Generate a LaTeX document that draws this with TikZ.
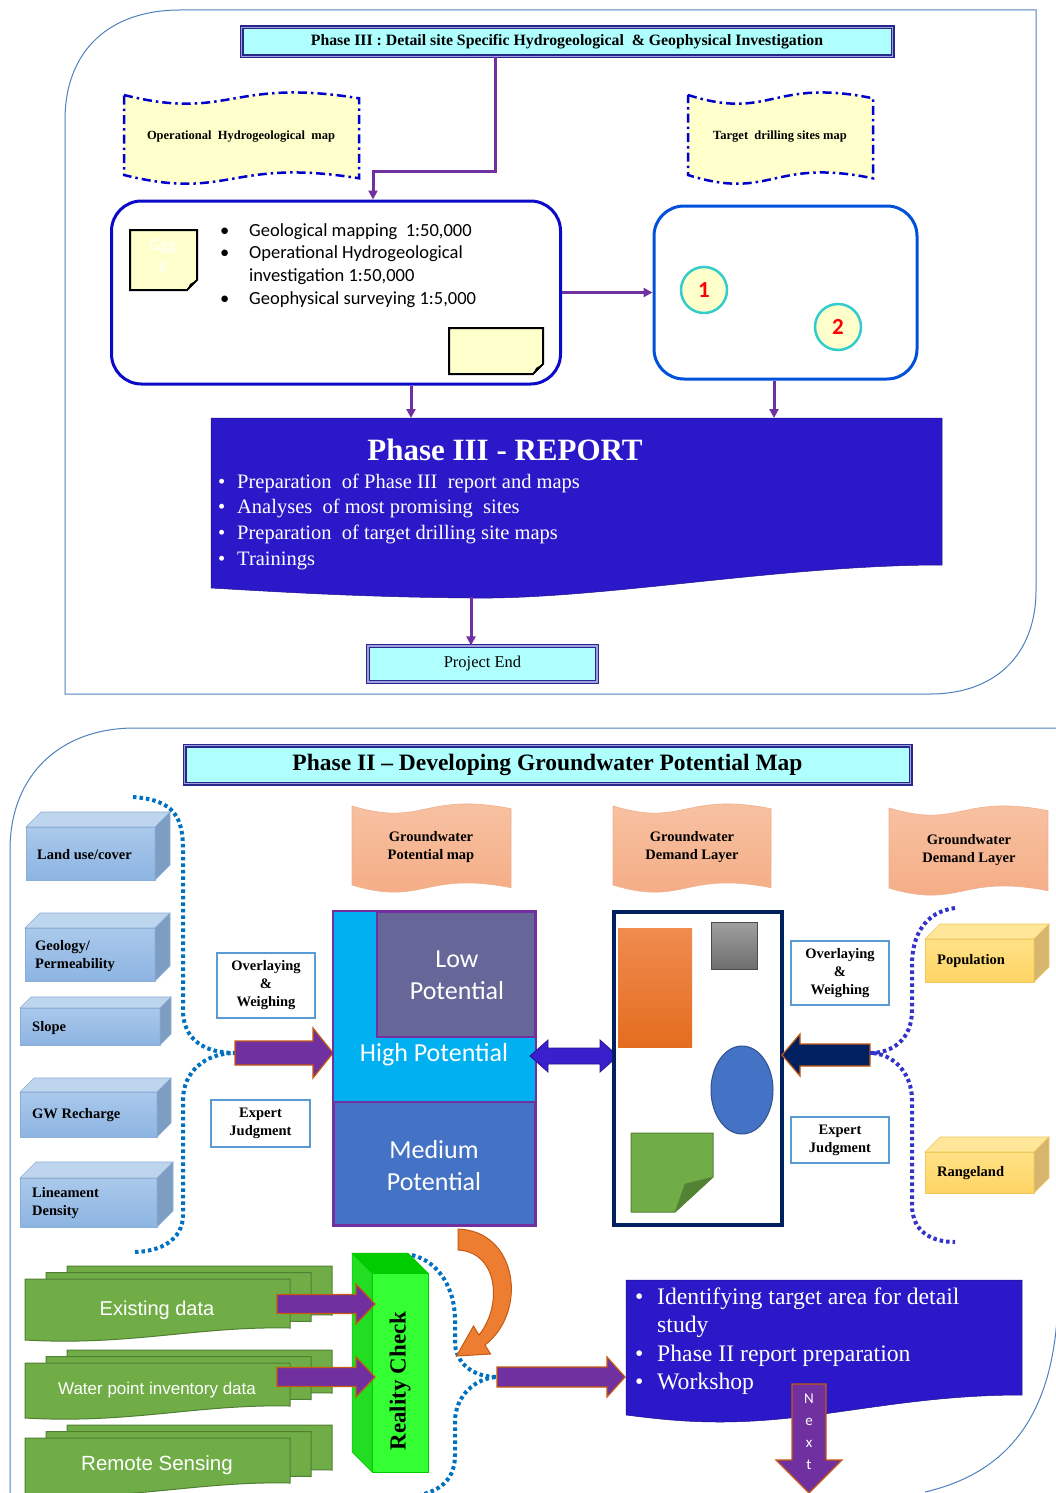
\documentclass[tikz,border=0pt]{standalone}
\usepackage{fontspec}
\setmainfont{Liberation Serif}
\setsansfont{Carlito}
\newfontfamily\arialfont{Liberation Sans}
\usetikzlibrary{arrows.meta,positioning,calc}

\definecolor{framecol}{RGB}{79,129,189}
\definecolor{titlecyan}{RGB}{175,255,255}
\definecolor{titleedge}{RGB}{40,40,140}
\definecolor{titlemid}{RGB}{160,160,225}
\definecolor{tapeyellow}{RGB}{255,255,204}
\definecolor{tapeblue}{RGB}{0,0,204}
\definecolor{fieldblue}{RGB}{10,10,200}
\definecolor{siteblue}{RGB}{0,80,220}
\definecolor{linkpurple}{RGB}{112,48,160}
\definecolor{turq}{RGB}{51,204,204}
\definecolor{repblue}{RGB}{43,24,201}
\definecolor{bluefront}{RGB}{170,201,235}
\definecolor{bluefrontb}{RGB}{141,180,226}
\definecolor{bluetop}{RGB}{190,213,238}
\definecolor{blueside}{RGB}{125,157,194}
\definecolor{blueedge}{RGB}{140,175,215}
\definecolor{yelfront}{RGB}{255,226,135}
\definecolor{yelfrontb}{RGB}{255,212,100}
\definecolor{yeltop}{RGB}{255,230,153}
\definecolor{yelside}{RGB}{214,182,110}
\definecolor{yeledge}{RGB}{240,200,90}
\definecolor{salmontop}{RGB}{248,196,165}
\definecolor{salmonbot}{RGB}{244,170,130}
\definecolor{salmonedge}{RGB}{240,175,140}
\definecolor{boxline}{RGB}{91,155,213}
\definecolor{arrowpurple}{RGB}{112,48,160}
\definecolor{arrowedge}{RGB}{197,90,17}
\definecolor{highcyan}{RGB}{0,176,240}
\definecolor{lowgray}{RGB}{102,102,153}
\definecolor{medblue}{RGB}{68,114,196}
\definecolor{navy}{RGB}{0,32,96}
\definecolor{orangea}{RGB}{240,140,80}
\definecolor{orangeb}{RGB}{228,108,30}
\definecolor{graya}{RGB}{160,160,160}
\definecolor{grayb}{RGB}{110,110,110}
\definecolor{ellipseedge}{RGB}{47,82,143}
\definecolor{notegreen}{RGB}{112,173,71}
\definecolor{foldgreen}{RGB}{84,130,53}
\definecolor{dotblue}{RGB}{0,112,192}
\definecolor{dotviolet}{RGB}{51,51,204}
\definecolor{stackedge}{RGB}{80,126,50}
\definecolor{realfront}{RGB}{51,255,51}
\definecolor{realtop}{RGB}{0,204,0}
\definecolor{realside}{RGB}{34,221,34}
\definecolor{dblblue}{RGB}{58,31,204}
\definecolor{curvorange}{RGB}{237,125,49}

\tikzset{
  framebound/.style={draw=framecol, line width=1},
  titlebox/.style={draw=titleedge, line width=1.2, double=titlemid, double distance=1.6, fill=titlecyan, inner sep=0},
  link/.style={draw=linkpurple, line width=3, -{Triangle[length=9pt,width=9pt]}},
  yellowtape/.style={fill=tapeyellow, draw=tapeblue, line width=2.5, dash pattern=on 9pt off 4pt on 2.5pt off 4pt},
  salmontape/.style={top color=salmontop, bottom color=salmonbot, draw=salmonedge, line width=0.6},
  fieldbox/.style={line width=3, rounded corners=30, fill=white},
  sitemark/.style={circle, fill=tapeyellow, draw=turq, line width=2.5, minimum size=46, inner sep=0, text=red, font=\sffamily\bfseries\fontsize{23}{26}\selectfont},
  layertext/.style={anchor=west, align=left, inner sep=0, font=\bfseries\fontsize{14.5}{17.5}\selectfont},
  methodbox/.style={draw=boxline, line width=1.5, fill=white, align=center, inner sep=0, font=\bfseries\fontsize{14.5}{18}\selectfont},
  maptitle/.style={align=center, font=\bfseries\fontsize{14.5}{17.5}\selectfont},
  maptext/.style={text=white, align=center, font=\sffamily\fontsize{26}{32}\selectfont},
  fatpurple/.style={fill=arrowpurple, draw=arrowedge, line width=1.2},
  fatnavy/.style={fill=navy, draw=arrowedge, line width=1.2},
  dotline/.style={line width=4, dash pattern=on 3.5pt off 3pt},
  stack/.style={fill=notegreen, draw=stackedge, line width=1},
  stacktext/.style={text=white, font=\arialfont\fontsize{20}{24}\selectfont},
}

% wavy banner: x0 y0 x1 y1 amplitude
\newcommand{\wavetape}[6][]{%
  \path[#1] ({#2},{#3}) .. controls ({(#2)+0.45*((#4)-(#2))},{(#3)+2.4*(#6)}) and ({(#2)+0.45*((#4)-(#2))},{(#3)-1.6*(#6)}) .. ({#4},{(#3)+0.3*(#6)})
    -- ({#4},{(#5)+0.3*(#6)}) .. controls ({(#2)+0.45*((#4)-(#2))},{(#5)-1.6*(#6)}) and ({(#2)+0.45*((#4)-(#2))},{(#5)+2.4*(#6)}) .. ({#2},{#5}) -- cycle;}
% page with wavy bottom: x0 y0 x1 y1
\newcommand{\docpage}[5][]{%
  \path[#1] ({#2},{#3}) -- ({#4},{#3}) -- ({#4},{(#5)-12}) .. controls ({(#2)+0.65*((#4)-(#2))},{(#5)-14}) and ({(#2)+0.4*((#4)-(#2))},{(#5)+6}) .. ({#2},{#5}) -- cycle;}
% box with top and right faces: x0 y0 x1 y1 depth colourprefix
\newcommand{\boxthree}[6]{%
  \path[draw=#6edge, line width=0.6, top color=#6front, bottom color=#6frontb] (#1,#2) rectangle (#3,#4);
  \filldraw[fill=#6top, draw=#6edge, line width=0.6] (#1,#2) -- ({(#1)+(#5)},{(#2)-(#5)}) -- ({(#3)+(#5)},{(#2)-(#5)}) -- (#3,#2) -- cycle;
  \filldraw[fill=#6side, draw=#6edge, line width=0.6] (#3,#2) -- ({(#3)+(#5)},{(#2)-(#5)}) -- ({(#3)+(#5)},{(#4)-(#5)}) -- (#3,#4) -- cycle;}
% note with turned corner: x0 y0 x1 y1
\newcommand{\stickynote}[4]{%
  \filldraw[fill=tapeyellow, draw=black, line width=2] (#1,#2) -- (#3,#2) -- (#3,{(#4)-10}) -- ({(#3)-10},#4) -- (#1,#4) -- cycle;
  \fill[black] (#3,{(#4)-10}) -- ({(#3)-10},#4) -- ({(#3)-7},{(#4)-6}) -- cycle;}
% block arrow: tail x, head base x, tip x, y, body half, head half
\newcommand{\fatarrow}[7][]{%
  \filldraw[#1] (#2,{(#5)-(#6)}) -- (#3,{(#5)-(#6)}) -- (#3,{(#5)-(#7)}) -- (#4,#5) -- (#3,{(#5)+(#7)}) -- (#3,{(#5)+(#6)}) -- (#2,{(#5)+(#6)}) -- cycle;}

\begin{document}
\begin{tikzpicture}[x=1pt,y=-1pt]
\useasboundingbox (0,0) rectangle (1056,1493);
\fill[white] (0,0) rectangle (1056,1493);

% ===== Phase III =====
\draw[framebound] (65,694) -- (65,120) .. controls (65,50) and (110,10) .. (180,10) -- (1036,10) -- (1036,590) .. controls (1036,655) and (995,694) .. (930,694) -- cycle;

\node[titlebox, minimum width=651, minimum height=29, font=\bfseries\fontsize{15.8}{18}\selectfont] (p3title) at (567,42) {Phase III : Detail site Specific Hydrogeological \ \& Geophysical Investigation};

% maps produced
\wavetape[yellowtape]{124}{95}{359}{175}{11}
\node[font=\bfseries\fontsize{12.5}{15}\selectfont] (opmap) at (241,137) {Operational \ Hydrogeological \ map};
\wavetape[yellowtape]{688}{95}{873}{175}{11}
\node[font=\bfseries\fontsize{12.5}{15}\selectfont] (tgmap) at (780,137) {Target \ drilling sites map};

% field work
\node[fieldbox, draw=fieldblue, minimum width=449, minimum height=183] (fieldbox) at (336,292.5) {};
\stickynote{130}{230}{197}{290}
\node[text=white, align=center, font=\sffamily\fontsize{17}{19}\selectfont] (ggg) at (163,256) {Ggg\\g};
\stickynote{449}{328}{543}{374}
\node[anchor=base west, inner sep=0, font=\sffamily\fontsize{18.5}{22.7}\selectfont] (fielditems) at (220,236) {\begin{tabular}[t]{@{}p{29pt}@{}l@{}}
\textbullet & Geological mapping \ 1:50,000\\
\textbullet & Operational Hydrogeological\\
 & investigation 1:50,000\\
\textbullet & Geophysical surveying 1:5,000
\end{tabular}};

% drilling sites
\node[fieldbox, draw=siteblue, minimum width=263, minimum height=173] (sitebox) at (785.5,292.5) {};
\node[sitemark] (site1) at (704,290) {1};
\node[sitemark] (site2) at (838,327) {2};

\draw[link] ([xshift=-72pt]p3title.south) -- ++(0,114) -| ([xshift=37pt]fieldbox.north);
\draw[link] (fieldbox.east) -- (sitebox.west);

% report
\coordinate (reptop) at (576,418);
\path[fill=repblue, draw=repblue!70!black, line width=0.5] (211,418) -- (942,418) -- (942,565) .. controls (780,565) and (600,600) .. (470,598) .. controls (360,597) and (280,592) .. (211,588) -- cycle;
\draw[link] ([xshift=75pt]fieldbox.south) -- ([xshift=75pt]fieldbox.south |- reptop);
\draw[link] ([xshift=-11.5pt]sitebox.south) -- ([xshift=-11.5pt]sitebox.south |- reptop);
\node[text=white, font=\bfseries\fontsize{31}{36}\selectfont] (reptitle) at (505,450) {Phase III - REPORT};
\node[anchor=base west, inner sep=0, text=white, font=\fontsize{20.5}{25.7}\selectfont] (repitems) at (218,488) {\begin{tabular}[t]{@{}p{19pt}@{}l@{}}
\textbullet & Preparation \ of Phase III \ report and maps\\
\textbullet & Analyses \ of most promising \ sites\\
\textbullet & Preparation \ of target drilling site maps\\
\textbullet & Trainings
\end{tabular}};

\coordinate (repbot) at (471,597);
\node[titlebox, minimum width=229, minimum height=36, font=\fontsize{16.5}{19}\selectfont] (pend) at (482.5,664) {Project End};
\draw[link] (repbot) -- (repbot |- pend.north);

% ===== Phase II =====
\draw[framebound] (10,1500) -- (10,850) .. controls (10,775) and (60,728) .. (135,728) -- (1058,728) -- (1058,1300) .. controls (1055,1400) and (1020,1470) .. (925,1492);

\node[titlebox, minimum width=726, minimum height=38, font=\bfseries\fontsize{23.5}{27}\selectfont] (p2title) at (547.5,764.5) {Phase II \textendash{} Developing Groundwater Potential Map};

% input layers
\boxthree{26}{827}{155}{880}{15}{blue}
\node[layertext] (landuse) at (37,855) {Land use/cover};
\boxthree{25}{928}{155}{981}{15}{blue}
\node[layertext] (geology) at (35,956) {Geology/\\Permeability};
\boxthree{20}{1008}{160}{1045}{11}{blue}
\node[layertext] (slope) at (32,1028) {Slope};
\boxthree{20}{1092}{157}{1137}{14}{blue}
\node[layertext] (recharge) at (32,1115) {GW Recharge};
\boxthree{20}{1178}{157}{1227}{16}{blue}
\node[layertext] (lineament) at (32,1203) {Lineament\\Density};

\draw[dotline, draw=dotblue] (133,797) .. controls (175,800) and (183,818) .. (183,850) -- (183,1010) .. controls (183,1040) and (205,1053) .. (235,1053) .. controls (205,1053) and (183,1072) .. (183,1100) -- (183,1215) .. controls (183,1240) and (160,1252) .. (133,1252);

\node[methodbox, minimum width=98, minimum height=65] (owleft) at (266,985.5) {Overlaying\\\&\\Weighing};
\node[methodbox, minimum width=99, minimum height=47] (ejleft) at (260.5,1123.5) {Expert\\Judgment};
\fatarrow[fatpurple]{235}{313}{333}{1053}{12}{25}

% potential map
\node[draw=linkpurple, line width=2.5, fill=highcyan, minimum width=203, minimum height=315, inner sep=0] (potmap) at (434.5,1068.5) {};
\filldraw[fill=lowgray, draw=linkpurple, line width=1.5] (377,912) rectangle (535,1037);
\filldraw[fill=medblue, draw=linkpurple, line width=1.5] (334,1102) rectangle (535,1225);
\node[maptext] (lowtxt) at (457,975) {Low\\Potential};
\node[maptext] (hightxt) at (434,1055) {High Potential};
\node[maptext] (medtxt) at (434,1166) {Medium\\Potential};

\filldraw[fill=dblblue, draw=dblblue!70!black, line width=0.8] (530,1056) -- (548,1040) -- (548,1048) -- (600,1048) -- (600,1040) -- (618,1056) -- (600,1072) -- (600,1064) -- (548,1064) -- (548,1072) -- cycle;

% demand layer
\node[draw=navy, line width=4, fill=white, minimum width=168, minimum height=313, inner sep=0] (demand) at (698,1068.5) {};
\shade[top color=orangea, bottom color=orangeb] (618,928) rectangle (692,1047);
\shadedraw[top color=graya, bottom color=grayb, draw=gray!60!black] (711,922) rectangle (757,969);
\filldraw[fill=medblue, draw=ellipseedge, line width=1] (742,1090) ellipse [x radius=31, y radius=44];
\filldraw[fill=notegreen, draw=foldgreen, line width=1] (631,1133) -- (713,1133) -- (713,1177) -- (675,1212) -- (631,1212) -- cycle;
\filldraw[fill=foldgreen, draw=foldgreen] (713,1177) -- (675,1212) -- (685,1184) -- cycle;

\node[methodbox, minimum width=98, minimum height=64] (owright) at (840,973) {Overlaying\\\&\\Weighing};
\node[methodbox, minimum width=98, minimum height=46] (ejright) at (840,1140) {Expert\\Judgment};
\fatarrow[fatnavy]{870}{800}{782}{1055}{11}{21}

% demand inputs
\boxthree{925}{939}{1034}{982}{15}{yel}
\node[layertext] (population) at (937,961) {Population};
\boxthree{925}{1152}{1034}{1193}{15}{yel}
\node[layertext] (rangeland) at (937,1173) {Rangeland};
\draw[dotline, draw=dotviolet] (955,908) .. controls (925,912) and (912,935) .. (912,965) -- (912,1010) .. controls (912,1040) and (892,1053) .. (870,1053) .. controls (892,1053) and (912,1072) .. (912,1100) -- (912,1205) .. controls (912,1232) and (932,1242) .. (955,1242);

% map banners
\wavetape[salmontape]{352}{806}{511}{885}{9}
\node[maptitle] (gwpmap) at (431,847) {Groundwater\\Potential map};
\wavetape[salmontape]{613}{806}{771}{885}{9}
\node[maptitle] (gwdmap) at (692,847) {Groundwater\\Demand Layer};
\wavetape[salmontape]{889}{808}{1048}{888}{9}
\node[maptitle] (gwdlayer) at (969,850) {Groundwater\\Demand Layer};

% field data
\foreach \k in {2,1,0}{
  \docpage[stack]{25+21*\k}{1279-6.5*\k}{290+21*\k}{1340-6.5*\k}
  \docpage[stack]{25+21*\k}{1363-6.5*\k}{290+21*\k}{1418-6.5*\k}
  \docpage[stack]{25+21*\k}{1438-6.5*\k}{290+21*\k}{1495-6.5*\k}
}
\node[stacktext] (existing) at (157,1310) {Existing data};
\node[stacktext, font=\arialfont\fontsize{17}{20}\selectfont] (waterpts) at (157,1390) {Water point inventory data};
\node[stacktext, font=\arialfont\fontsize{20.5}{24}\selectfont] (remote) at (157,1465) {Remote Sensing};

% reality check
\filldraw[fill=realside, draw=realtop, line width=0.5] (352,1253) -- (372,1273) -- (372,1472) -- (352,1452) -- cycle;
\filldraw[fill=realtop, draw=realtop, line width=0.5] (352,1253) -- (408,1253) -- (428,1273) -- (372,1273) -- cycle;
\filldraw[fill=realfront, draw=realtop, line width=0.5] (372,1273) rectangle (428,1472);
\node[rotate=90, font=\bfseries\fontsize{23}{27}\selectfont] (reality) at (400,1381) {Reality Check};
\fatarrow[fatpurple]{277}{356}{375}{1304}{9.5}{20}
\fatarrow[fatpurple]{277}{356}{375}{1377}{9.5}{20}

\draw[dotline, draw=dotblue] (412,1255) .. controls (440,1262) and (455,1290) .. (455,1320) -- (455,1345) .. controls (458,1368) and (478,1377) .. (497,1377) .. controls (476,1378) and (455,1395) .. (455,1422) -- (455,1455) .. controls (455,1478) and (442,1490) .. (420,1495);

% feedback arrow
\filldraw[fill=curvorange, draw=arrowedge, line width=1] (458,1229) .. controls (518,1231) and (528,1312) .. (485,1345) -- (490.5,1354) -- (456.5,1356) -- (473.5,1326) -- (479,1335) .. controls (503,1305) and (498,1252) .. (458,1250) -- cycle;

\fatarrow[fatpurple]{497}{607}{625}{1377}{10}{20}

% phase II report
\path[fill=repblue, draw=repblue!70!black, line width=0.5] (626,1280) -- (1022,1280) -- (1022,1395) .. controls (900,1395) and (820,1422) .. (720,1422) .. controls (680,1422) and (650,1418) .. (626,1415) -- cycle;
\node[anchor=base west, inner sep=0, text=white, font=\fontsize{23.7}{28.5}\selectfont] (p2items) at (635,1304) {\begin{tabular}[t]{@{}p{22pt}@{}l@{}}
\textbullet & Identifying target area for detail\\
 & study\\
\textbullet & Phase II report preparation\\
\textbullet & Workshop
\end{tabular}};

\filldraw[fatpurple] (792,1384) -- (826,1384) -- (826,1460) -- (842,1460) -- (809,1493) -- (776,1460) -- (792,1460) -- cycle;
\node[text=white, align=center, font=\sffamily\fontsize{15}{22}\selectfont] (nexttxt) at (809,1432) {N\\e\\x\\t};
\end{tikzpicture}
\end{document}
